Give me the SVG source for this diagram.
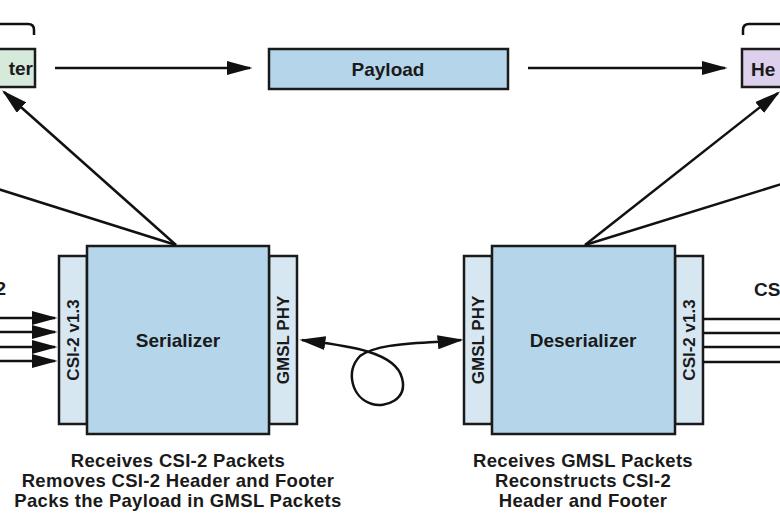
<svg xmlns="http://www.w3.org/2000/svg" width="780" height="520" viewBox="0 0 780 520">
<defs>
<style>
text{font-family:"Liberation Sans","Roboto",sans-serif;font-weight:bold;fill:#1a1a1a}
.box{fill:#b5d6ea;stroke:#1a1a1a;stroke-width:2.5}
.strip{fill:#d6e7f2;stroke:#1a1a1a;stroke-width:2.5}
.ln{fill:none;stroke:#111;stroke-width:2.5}
.lbl{font-size:19px;text-anchor:middle}
.rot{font-size:17px;text-anchor:middle}
.cap{font-size:18.5px;text-anchor:middle;letter-spacing:0.3px}
</style>
<marker id="ahb" viewBox="0 0 10 10" refX="9" refY="5" markerWidth="26" markerHeight="14" markerUnits="userSpaceOnUse" orient="auto-start-reverse" preserveAspectRatio="none"><path d="M0,0 L10,5 L0,10 z" fill="#111"/></marker>
</defs>
<g id="header-left">
<path class="ln" d="M0,24 H28 Q34,24 34,30 V35"/>
<rect x="-5" y="49" width="40" height="38" fill="#d6eadb" stroke="#1a1a1a" stroke-width="2.5"/>
<text x="33" y="75" font-size="19" text-anchor="end">ter</text>
</g>
<g id="payload">
<rect x="269" y="49" width="239" height="40" class="box"/>
<text x="388" y="76" class="lbl">Payload</text>
</g>
<g id="header-right">
<path class="ln" d="M743,35 V30 Q743,24 749,24 H785"/>
<rect x="742" y="49" width="45" height="38" fill="#dcd0ec" stroke="#1a1a1a" stroke-width="2.5"/>
<text x="751" y="76" font-size="19">He</text>
</g>
<g id="serializer">
<rect x="59" y="256" width="28" height="168" class="strip"/>
<rect x="269" y="256" width="28" height="168" class="strip"/>
<rect x="87" y="246" width="182" height="188" class="box"/>
<text x="178" y="347" class="lbl">Serializer</text>
<text transform="translate(79,340) rotate(-90)" class="rot">CSI-2 v1.3</text>
<text transform="translate(289,340) rotate(-90)" class="rot">GMSL PHY</text>
</g>
<g id="deserializer">
<rect x="464" y="256" width="28" height="168" class="strip"/>
<rect x="675" y="256" width="28" height="168" class="strip"/>
<rect x="492" y="246" width="183" height="188" class="box"/>
<text x="583" y="347" class="lbl">Deserializer</text>
<text transform="translate(484,340) rotate(-90)" class="rot">GMSL PHY</text>
<text transform="translate(695,340) rotate(-90)" class="rot">CSI-2 v1.3</text>
</g>
<g id="labels">
<text x="6" y="295" font-size="19" text-anchor="end">2</text>
<text x="754" y="296" font-size="19">CS</text>
<text x="178" y="467" class="cap">Receives CSI-2 Packets</text>
<text x="178" y="487" class="cap">Removes CSI-2 Header and Footer</text>
<text x="178" y="507" class="cap">Packs the Payload in GMSL Packets</text>
<text x="583" y="467" class="cap">Receives GMSL Packets</text>
<text x="583" y="487" class="cap">Reconstructs CSI-2</text>
<text x="583" y="507" class="cap">Header and Footer</text>
</g>
<g id="connectors">
<line class="ln" x1="55" y1="68" x2="250" y2="68" marker-end="url(#ahb)"/>
<line class="ln" x1="528" y1="68" x2="725" y2="68" marker-end="url(#ahb)"/>
<line class="ln" x1="176" y1="245" x2="4" y2="92" marker-end="url(#ahb)"/>
<line class="ln" x1="176" y1="245" x2="-5" y2="188"/>
<line class="ln" x1="585" y1="245" x2="778" y2="93" marker-end="url(#ahb)"/>
<line class="ln" x1="585" y1="245" x2="785" y2="183"/>
<line class="ln" x1="0" y1="318" x2="55" y2="318" marker-end="url(#ahb)"/>
<line class="ln" x1="0" y1="332" x2="55" y2="332" marker-end="url(#ahb)"/>
<line class="ln" x1="0" y1="347" x2="55" y2="347" marker-end="url(#ahb)"/>
<line class="ln" x1="0" y1="361" x2="55" y2="361" marker-end="url(#ahb)"/>
<line class="ln" x1="703" y1="319" x2="785" y2="319"/>
<line class="ln" x1="703" y1="333" x2="785" y2="333"/>
<line class="ln" x1="703" y1="347" x2="785" y2="347"/>
<line class="ln" x1="703" y1="362" x2="785" y2="362"/>
<path class="ln" d="M302,340 C340,345 395,350 402,378 C408,400 385,408 372,404 C352,398 345,372 360,356 C380,342 420,344 461,340" marker-start="url(#ahb)" marker-end="url(#ahb)"/>
</g>
</svg>
